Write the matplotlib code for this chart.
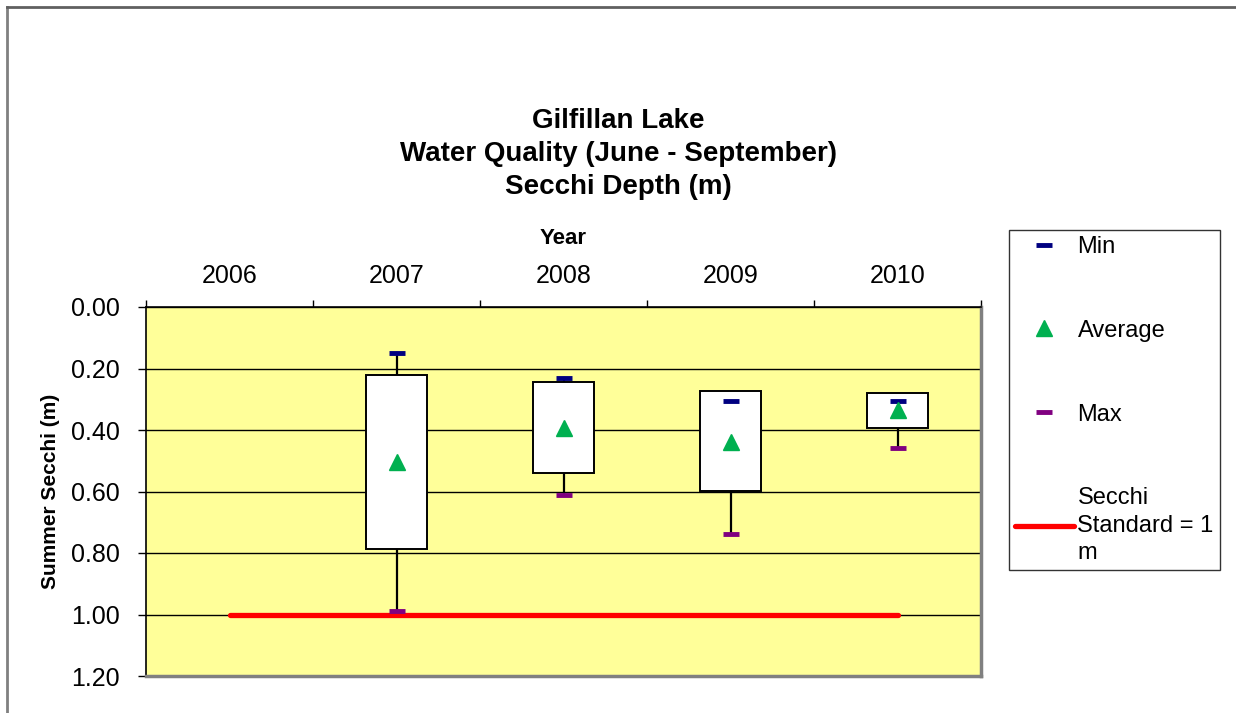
import matplotlib
matplotlib.use("Agg")
import matplotlib.pyplot as plt
from matplotlib.lines import Line2D
from matplotlib.patches import Rectangle

plt.rcParams['font.family'] = ['Liberation Sans', 'DejaVu Sans']

# Summer Secchi depth data (m)
years = ['2006', '2007', '2008', '2009', '2010']
min_depth = [None, 0.15, 0.23, 0.305, 0.305]
avg_depth = [None, 0.505, 0.395, 0.438, 0.335]
max_depth = [None, 0.99, 0.61, 0.737, 0.458]
box_top = [None, 0.222, 0.245, 0.274, 0.279]
box_bottom = [None, 0.787, 0.541, 0.597, 0.395]
standard = 1.0
y_ticks = [0.0, 0.2, 0.4, 0.6, 0.8, 1.0, 1.2]

fig = plt.figure(figsize=(12.36, 7.13), dpi=100)
ax = fig.add_axes([146 / 1236, 1 - 676 / 713, (981 - 146) / 1236, (676 - 307) / 713])
ax.set_facecolor('#FFFF99')

x = list(range(len(years)))
box_w = 0.36

# standard line across all years
ax.plot([x[0], x[-1]], [standard, standard], color='#FF0000', lw=3.8,
        solid_capstyle='round', zorder=3, label='Secchi\nStandard = 1\nm')

for i in x:
    if min_depth[i] is None:
        continue
    # high-low line then the box on top
    ax.plot([i, i], [min_depth[i], max_depth[i]], color='black', lw=1.6, zorder=4)
    ax.add_patch(Rectangle((i - box_w / 2, box_top[i]), box_w, box_bottom[i] - box_top[i],
                           facecolor='white', edgecolor='black', lw=1.4, zorder=5))

xs = [i for i in x if min_depth[i] is not None]
ax.plot(xs, [min_depth[i] for i in xs], ls='none', marker='_', ms=11, mew=3.5,
        color='#000080', zorder=6, label='Min')
ax.plot(xs, [avg_depth[i] for i in xs], ls='none', marker='^', ms=11,
        color='#00B050', zorder=6, label='Average')
ax.plot(xs, [max_depth[i] for i in xs], ls='none', marker='_', ms=11, mew=3.5,
        color='#800080', zorder=6, label='Max')

ax.set_xlim(-0.5, len(years) - 0.5)
ax.set_ylim(1.2, 0.0)
ax.set_yticks(y_ticks)
ax.set_yticklabels([f'{v:.2f}' for v in y_ticks])
ax.yaxis.grid(True, color='black', lw=1)
ax.set_axisbelow(True)

# x axis on top: ticks at boundaries, labels at centres
ax.xaxis.tick_top()
ax.xaxis.set_label_position('top')
ax.set_xticks([i - 0.5 for i in range(len(years) + 1)])
ax.set_xticklabels([])
ax.set_xticks(x, minor=True)
ax.set_xticklabels(years, minor=True)
ax.tick_params(axis='x', which='major', length=5, width=1, color='black')
ax.tick_params(axis='x', which='minor', length=0, pad=14, labelsize=18)
ax.tick_params(axis='y', length=6, width=1, pad=13, labelsize=18)

ax.set_xlabel('Year', fontsize=16, fontweight='bold', labelpad=14)
ax.set_ylabel('Summer Secchi (m)', fontsize=15, fontweight='bold', labelpad=8)

for side in ['left', 'top']:
    ax.spines[side].set_color('black')
    ax.spines[side].set_linewidth(1.2)
for side in ['right', 'bottom']:
    ax.spines[side].set_color('#808080')
    ax.spines[side].set_linewidth(2.5)

handles, labels = ax.get_legend_handles_labels()
order = [1, 2, 3, 0]
leg = ax.legend([handles[k] for k in order], [labels[k] for k in order],
                loc='upper left', bbox_to_anchor=(1009 / 1236, 1 - 230 / 713),
                bbox_transform=fig.transFigure, fontsize=17, frameon=True,
                fancybox=False, edgecolor='black', labelspacing=2.62,
                handlelength=2.5, handletextpad=0.15, borderpad=0.25,
                borderaxespad=0)
leg.get_frame().set_linewidth(1)
leg.get_texts()[-1].set_linespacing(1.3)

fig.text(0.5, 1 - 108 / 713, 'Gilfillan Lake\nWater Quality (June - September)\nSecchi Depth (m)',
         ha='center', va='top', fontsize=20, fontweight='bold', linespacing=1.36,
         transform=fig.transFigure)

# chart area border (top and left visible)
fig.add_artist(Line2D([7 / 1236, 7 / 1236], [0, 1 - 7 / 713], color='#808080', lw=2,
                      transform=fig.transFigure))
fig.add_artist(Line2D([7 / 1236, 1], [1 - 7 / 713, 1 - 7 / 713], color='#606060', lw=2,
                      transform=fig.transFigure))

fig.savefig('out.png', dpi=100)
